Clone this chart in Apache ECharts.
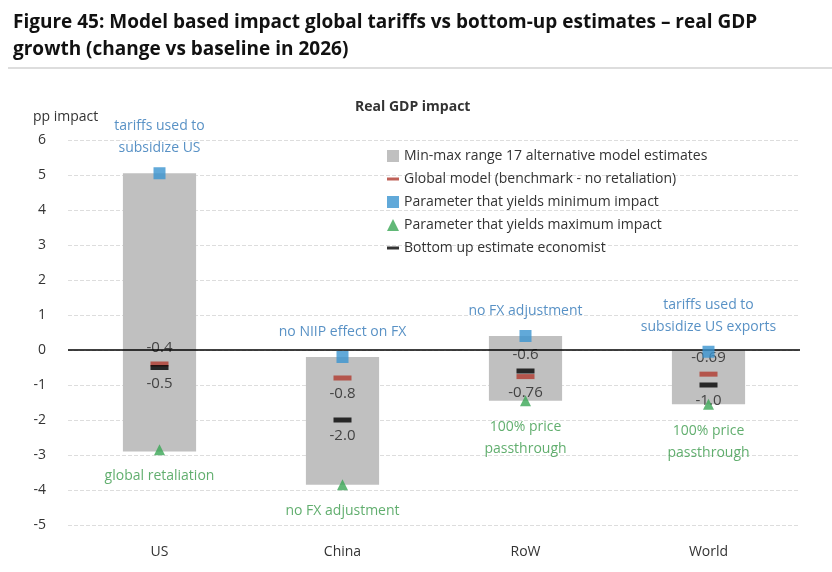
<!DOCTYPE html>
<html><head><meta charset="utf-8">
<script src="https://cdn.jsdelivr.net/npm/echarts@6/dist/echarts.min.js"></script>
<style>body{margin:0;background:#fff}#c{width:832px;height:572px}</style>
</head><body><div id="c"></div>
<script>
const categories = ['US','China','RoW','World'];
const rangeMin = [-2.9,-3.85,-1.45,-1.55];
const rangeMax = [5.05,-0.2,0.4,0.0];
const globalModel = [-0.4,-0.8,-0.76,-0.69];
const bottomUp = [-0.5,-2.0,-0.6,-1.0];
const minParam = [5.05,-0.2,0.4,-0.05];
const maxParam = [-2.85,-3.85,-1.45,-1.55];
const minParamText = ['tariffs used to\nsubsidize US','no NIIP effect on FX','no FX adjustment','tariffs used to\nsubsidize US exports'];
const maxParamText = ['global retaliation','no FX adjustment','100% price\npassthrough','100% price\npassthrough'];
const globalText = ['-0.4','-0.8','-0.76','-0.69'];
const bottomText = ['-0.5','-2.0','-0.6','-1.0'];

const F = '"Open Sans", "Noto Sans", sans-serif';
const chart = echarts.init(document.getElementById('c'));
const labelCol = '#222';
// label placement per category: 'top' or 'bottom'
const globalPos = ['top','bottom','bottom','top'];
const bottomPos = ['bottom','bottom','top','bottom'];
chart.setOption({
  animation:false,
  textStyle:{fontFamily:F},
  title:[{text:'Figure 45: Model based impact global tariffs vs bottom-up estimates – real GDP\ngrowth (change vs baseline in 2026)',left:8,top:4,
    textStyle:{fontSize:19,fontWeight:'bold',color:'#111',lineHeight:27,fontFamily:F}},
    {text:'Real GDP impact',left:350,top:95,textStyle:{fontSize:14,fontWeight:'bold',color:'#333',fontFamily:F}},
    {text:'pp impact',left:28,top:105,textStyle:{fontSize:14,fontWeight:'normal',color:'#333',fontFamily:F}}],
  graphic:[{type:'line',shape:{x1:8,y1:68,x2:832,y2:68},style:{stroke:'#bbb',lineWidth:1}}],
  legend:{orient:'vertical',left:382,top:144,itemGap:9,itemWidth:12,itemHeight:12,
    textStyle:{fontSize:14,color:'#333',fontFamily:F},
    data:[
      {name:'Min-max range 17 alternative model estimates',icon:'rect',itemStyle:{color:'#c0c0c0'}},
      {name:'Global model (benchmark - no retaliation)',icon:'path://M0,5h12v3h-12z',itemStyle:{color:'#b03a2e'}},
      {name:'Parameter that yields minimum impact',icon:'rect',itemStyle:{color:'#3a93d0'}},
      {name:'Parameter that yields maximum impact',icon:'triangle',itemStyle:{color:'#3aa655'}},
      {name:'Bottom up estimate economist',icon:'path://M0,5h12v3h-12z',itemStyle:{color:'#000'}}
    ]},
  grid:{left:68,right:32,top:140,bottom:47},
  xAxis:{type:'category',data:categories,axisTick:{show:false},axisLine:{show:false},
    axisLabel:{fontSize:14,color:'#333',margin:20}},
  yAxis:{type:'value',min:-5,max:6,interval:1,axisLine:{show:false},axisTick:{show:false},
    axisLabel:{fontSize:14,color:'#333',margin:22},
    splitLine:{lineStyle:{type:'dashed',color:'#ddd'}}},
  series:[
    {name:'Min-max range 17 alternative model estimates',type:'custom',
      data:categories.map((c,i)=>[i,rangeMin[i],rangeMax[i]]),
      renderItem:(p,api)=>{const a=api.coord([api.value(0),api.value(1)]);const b=api.coord([api.value(0),api.value(2)]);
        const w=api.size([1,0])[0]*0.4;
        return {type:'rect',shape:{x:a[0]-w/2,y:b[1],width:w,height:a[1]-b[1]},style:{fill:'#c0c0c0'}};},
      markLine:{silent:true,symbol:'none',label:{show:false},lineStyle:{color:'#000',type:'solid',width:1.5},data:[{yAxis:0}]},
      z:1},
    {name:'Global model (benchmark - no retaliation)',type:'scatter',symbol:'rect',symbolSize:[18,5],
      itemStyle:{color:'#b03a2e'},z:3,
      data:globalModel.map((v,i)=>({value:[i,v],label:{show:true,formatter:globalText[i],position:globalPos[i],distance:6,color:labelCol,fontSize:15}}))},
    {name:'Bottom up estimate economist',type:'scatter',symbol:'rect',symbolSize:[18,5],
      itemStyle:{color:'#000'},z:4,
      data:bottomUp.map((v,i)=>({value:[i,v],label:{show:true,formatter:bottomText[i],position:bottomPos[i],distance:6,color:labelCol,fontSize:15}}))},
    {name:'Parameter that yields minimum impact',type:'scatter',symbol:'rect',symbolSize:12,
      itemStyle:{color:'#3a93d0'},data:minParam.map((v,i)=>[i,v]),z:5,
      label:{show:true,formatter:p=>minParamText[p.dataIndex],position:'top',distance:8,color:'#2e75b6',fontSize:14,lineHeight:22}},
    {name:'Parameter that yields maximum impact',type:'scatter',symbol:'triangle',symbolSize:11,
      itemStyle:{color:'#3aa655'},data:maxParam.map((v,i)=>[i,v]),z:5,
      label:{show:true,formatter:p=>maxParamText[p.dataIndex],position:'bottom',distance:10,color:'#3a9a4a',fontSize:14,lineHeight:22}}
  ]
});
</script></body></html>
